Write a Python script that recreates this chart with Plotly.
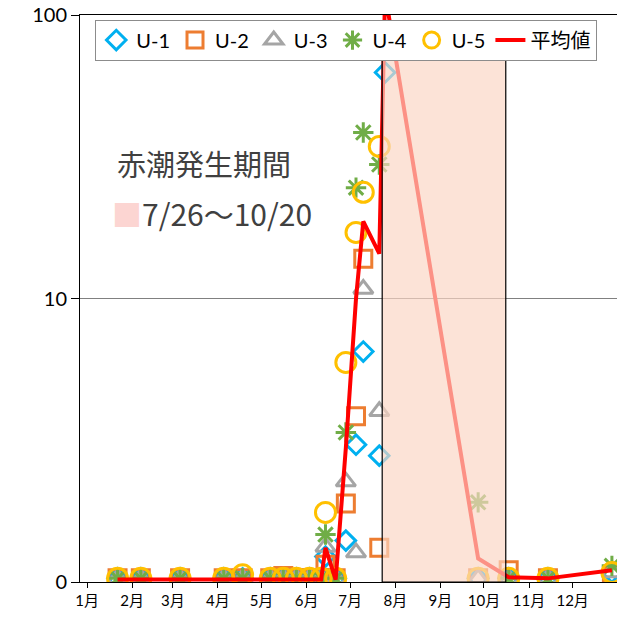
import plotly.graph_objects as go

# ---- data (values in axis units; log axis whose base "1" is labelled 0) ----
dates = ["2021-01-22", "2021-02-07", "2021-03-06", "2021-04-05", "2021-04-18",
         "2021-05-07", "2021-05-16", "2021-05-25", "2021-06-03", "2021-06-11",
         "2021-06-14", "2021-06-21", "2021-06-28", "2021-07-05", "2021-07-10",
         "2021-07-21", "2021-07-25", "2021-09-27", "2021-10-18", "2021-11-14",
         "2021-12-28"]

u1 = [1.03, 1.03, 1.03, 1.03, 1.03, 1.03, 1.03, 1.03, 1.03, 1.03,
      1.23, 1.03, 1.40, 3.05, 6.50, 2.79, 62.7, 1.03, 1.03, 1.03, 1.08]
u2 = [1.03, 1.03, 1.03, 1.03, 1.03, 1.03, 1.05, 1.03, 1.03, 1.03,
      1.15, 1.03, 1.89, 3.84, 13.8, 1.32, None, 1.03, 1.10, 1.03, 1.05]
u3 = [1.03, 1.03, 1.03, 1.03, 1.03, 1.03, 1.03, 1.03, 1.03, 1.03,
      1.33, 1.03, 2.26, 1.27, 10.8, 4.00, None, 1.03, 1.03, 1.03, 1.08]
u4 = [1.03, 1.03, 1.03, 1.03, 1.03, 1.03, 1.03, 1.03, 1.03, 1.03,
      1.47, 1.03, 3.37, 24.6, 38.5, 29.7, None, 1.91, 1.03, 1.03, 1.14]
u5 = [1.03, 1.03, 1.03, 1.03, 1.06, 1.03, 1.03, 1.03, 1.03, 1.03,
      1.76, 1.03, 5.95, 17.1, 23.7, 34.4, None, 1.03, 1.03, 1.03, 1.08]
mean = [1.02, 1.02, 1.02, 1.02, 1.02, 1.02, 1.02, 1.02, 1.02, 1.02,
        1.32, 1.02, 2.97, 10.0, 18.7, 14.4, 119.0, 1.21, 1.04, 1.03, 1.10]

series_names = ["U-1", "U-2", "U-3", "U-4", "U-5"]
mean_name = "平均値"

month_ticks = ["2021-%02d-01" % m for m in range(1, 13)]
month_labels = ["%d月" % m for m in range(1, 13)]

y_tickvals = [1, 10, 100]
y_ticktext = ["0", "10", "100"]

bloom_start = "2021-07-23"
bloom_end = "2021-10-16"
bloom_title = "赤潮発生期間"
bloom_label = "7/26～10/20"

# ---- styles ----
FONT = "Lato, 'Noto Sans CJK JP', sans-serif"
JFONT = "'Noto Sans CJK JP', sans-serif"
styles = [
    dict(symbol="diamond-open", color="#00B0F0", size=15),
    dict(symbol="square-open", color="#ED7D31", size=17),
    dict(symbol="triangle-up-open", color="#A5A5A5", size=17),
    dict(symbol="asterisk-open", color="#70AD47", size=17),
    dict(symbol="circle-open", color="#FFC000", size=20),
]

fig = go.Figure()
for name, vals, st in zip(series_names, [u1, u2, u3, u4, u5], styles):
    fig.add_trace(go.Scatter(
        x=dates, y=vals, name=name, mode="markers",
        marker=dict(symbol=st["symbol"], size=st["size"], color=st["color"],
                    line=dict(color=st["color"], width=3)),
    ))
fig.add_trace(go.Scatter(
    x=dates, y=mean, name=mean_name, mode="lines",
    line=dict(color="#FF0000", width=4),
))

fig.add_shape(type="rect", xref="x", yref="paper",
              x0=bloom_start, x1=bloom_end, y0=0, y1=0.926,
              fillcolor="rgba(251,214,196,0.68)",
              line=dict(color="black", width=1.2), layer="above")

fig.add_annotation(xref="paper", yref="paper", x=0.227, y=0.739,
                   xanchor="center", yanchor="middle",
                   text=bloom_title, showarrow=False,
                   font=dict(family=JFONT, size=29, color="#404040"))
fig.add_annotation(xref="paper", yref="paper", x=0.242, y=0.651,
                   xanchor="center", yanchor="middle",
                   text="<span style='color:#FCD5D2'>■</span>" + bloom_label,
                   showarrow=False,
                   font=dict(family=JFONT, size=30, color="#404040"))

fig.update_layout(
    width=617, height=614,
    margin=dict(l=72, r=0, t=7, b=39.5, autoexpand=False),
    plot_bgcolor="white", paper_bgcolor="white",
    font=dict(family=FONT, color="black"),
    showlegend=True,
    legend=dict(orientation="h", x=0.028, y=0.992, xanchor="left", yanchor="top",
                bordercolor="#8c8c8c", borderwidth=1, bgcolor="white",
                font=dict(family=FONT, size=20, color="black"),
                itemwidth=30, tracegroupgap=0),
)
fig.update_xaxes(
    type="date", range=["2020-12-27 04:00", "2022-01-06"],
    tickvals=month_ticks, ticktext=month_labels,
    ticks="outside", ticklen=5, tickcolor="black",
    showline=True, linecolor="black", linewidth=1, mirror=True,
    showgrid=False, zeroline=False, automargin=False,
    ticklabeloverflow="allow",
    tickfont=dict(family=FONT, size=15, color="black"),
)
fig.update_yaxes(
    type="log", range=[0, 2],
    tickvals=y_tickvals, ticktext=y_ticktext,
    ticks="outside", ticklen=8, tickcolor="black",
    showline=True, linecolor="black", linewidth=1, mirror=True,
    showgrid=True, gridcolor="#808080", gridwidth=1, automargin=False,
    ticklabeloverflow="allow",
    tickfont=dict(family=FONT, size=20, color="black"),
)

fig.write_html("out.html")
